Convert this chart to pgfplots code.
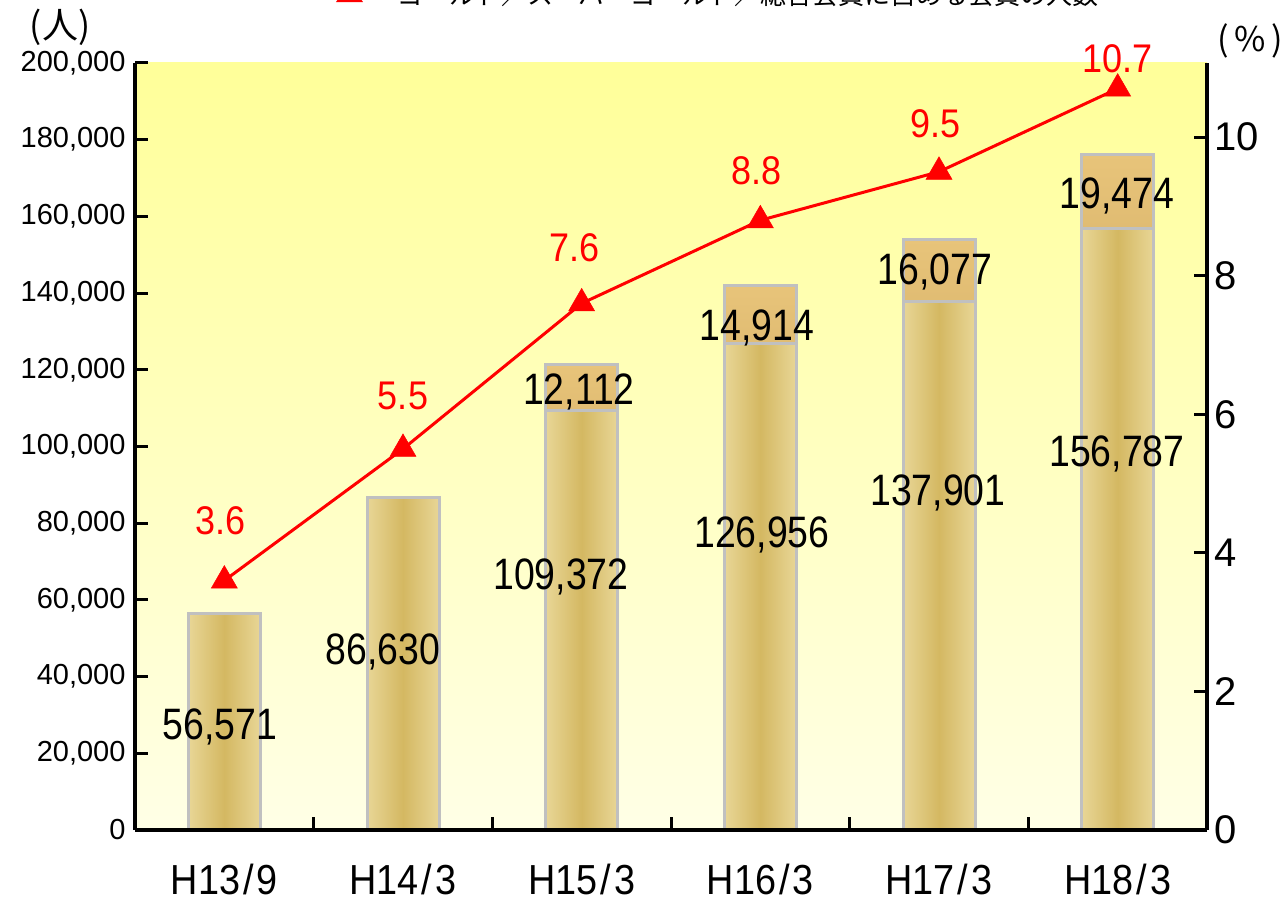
\documentclass[border=0pt]{standalone}
\usepackage{fontspec}
\setmainfont{Liberation Sans}
\newfontfamily\cjk{Noto Sans CJK JP}
\newfontfamily\narrow[FakeStretch=0.85]{Liberation Sans}
\newfontfamily\narrowb[FakeStretch=0.9]{Liberation Sans}
\usepackage{pgfplots}
\pgfplotsset{compat=1.18}
\definecolor{bgtop}{HTML}{FFFF99}
\definecolor{bgbot}{HTML}{FFFFE6}
\definecolor{goldA}{HTML}{E8D696}
\definecolor{goldB}{HTML}{D4B862}
\definecolor{topA}{HTML}{E8C47A}
\definecolor{topB}{HTML}{A07A34}
\definecolor{barline}{HTML}{C0C0C0}
\pgfplotsset{
  lowbar/.style={ybar, bar width=72pt, bar shift=0pt, draw=barline, line width=3pt,
    left color=goldA, right color=goldA, middle color=goldB},
  highbar/.style={ybar, bar width=72pt, bar shift=0pt, draw=barline, line width=3pt,
    top color=topA, bottom color=topB},
}
\begin{document}
\begin{tikzpicture}[x=1pt,y=1pt]
\useasboundingbox (0,0) rectangle (1281,913);
\begin{axis}[
  at={(135pt,83pt)}, anchor=south west,
  scale only axis, width=1072pt, height=767pt,
  xmin=-0.5, xmax=5.5, ymin=0, ymax=200000,
  axis x line*=bottom, axis y line*=left,
  axis line style={line width=3.5pt, black},
  xtick={0.5,1.5,2.5,3.5,4.5}, xticklabels={},
  ytick={0,20000,...,200000},
  scaled y ticks=false,
  /pgf/number format/fixed,
  /pgf/number format/precision=0,
  /pgf/number format/1000 sep={,},
  /pgf/number format/assume math mode=true,
  yticklabel style={font=\fontsize{29}{30}\selectfont, xshift=-6pt},
  tick align=inside,
  major tick length=13pt,
  tick style={line width=3pt, black},
  axis background/.style={top color=bgtop, bottom color=bgbot},
  clip=false,
]
% upper segments: drawn as totals, the lower segment is drawn over them
\addplot[highbar] coordinates {(2,121484)};
\addplot[highbar] coordinates {(3,141870)};
\addplot[highbar] coordinates {(4,153978)};
\addplot[highbar] coordinates {(5,176261)};
% lower segments
\addplot[lowbar] coordinates {(0,56571)};
\addplot[lowbar] coordinates {(1,86630)};
\addplot[lowbar] coordinates {(2,109372)};
\addplot[lowbar] coordinates {(3,126956)};
\addplot[lowbar] coordinates {(4,137901)};
\addplot[lowbar] coordinates {(5,156787)};
\begin{scope}[every node/.style={font=\narrow\fontsize{44}{44}\selectfont, inner sep=0pt}]
\node at (axis cs:-0.024,26860) {56,571};
\node at (axis cs:0.888,46415) {86,630};
\node at (axis cs:1.884,65970) {109,372};
\node at (axis cs:3.009,76920) {126,956};
\node at (axis cs:3.994,87875) {137,901};
\node at (axis cs:4.996,98045) {156,787};
\node at (axis cs:1.985,114210) {12,112};
\node at (axis cs:2.981,130900) {14,914};
\node at (axis cs:3.978,145500) {16,077};
\node at (axis cs:4.996,165300) {19,474};
\end{scope}
\end{axis}
\begin{axis}[
  at={(135pt,83pt)}, anchor=south west,
  scale only axis, width=1072pt, height=767pt,
  xmin=-0.5, xmax=5.5, ymin=0, ymax=11.07,
  axis y line*=right, axis x line*=bottom,
  axis line style={line width=3.5pt, black},
  xtick={0,1,2,3,4,5},
  xticklabels={H13\kern3pt/\kern3pt9, H14\kern3pt/\kern3pt3, H15\kern3pt/\kern3pt3, H16\kern3pt/\kern3pt3, H17\kern3pt/\kern3pt3, H18\kern3pt/\kern3pt3},
  xtick style={draw=none},
  xticklabel style={font=\narrowb\fontsize{42}{42}\selectfont, yshift=-31pt},
  ytick={0,2,4,6,8,10},
  tick align=inside, major tick length=13pt,
  ytick style={line width=3pt, black},
  /pgf/number format/fixed,
  /pgf/number format/assume math mode=true,
  yticklabel style={font=\fontsize{40}{40}\selectfont, xshift=4pt},
  legend style={at={(0.178,1.0915)}, anchor=west, draw=none, fill=none, inner sep=0pt,
    font=\cjk\fontsize{26}{26}\selectfont, nodes={inner sep=0pt}},
  legend cell align=left,
  legend image code/.code={\draw[mark repeat=2, mark phase=2, #1] plot coordinates {(0pt,0pt) (22pt,0pt) (44pt,0pt)};},
  clip=false,
]
\addplot[red, line width=3pt, mark=triangle*, mark size=15pt, mark options={line width=0.5pt, fill=red}]
  coordinates {(0,3.6) (1,5.5) (2,7.6) (3,8.8) (4,9.5) (5,10.7)};
\addlegendentry{\hspace{24pt}ゴールド／スーパーゴールド／総合会員に占める会員の人数}
\begin{scope}[every node/.style={font=\narrowb\fontsize{40}{40}\selectfont, text=red, inner sep=0pt}]
\node at (axis cs:-0.02,4.46) {3.6};
\node at (axis cs:1.0,6.26) {5.5};
\node at (axis cs:1.96,8.40) {7.6};
\node at (axis cs:2.98,9.52) {8.8};
\node at (axis cs:3.98,10.2) {9.5};
\node at (axis cs:5.0,11.13) {10.7};
\end{scope}
\end{axis}
\node[font=\cjk\fontsize{36}{36}\selectfont] at (60,886) {(人)};
\node[font=\cjk\fontsize{34}{34}\selectfont] at (1250,872) {(\,\%\,)};
\end{tikzpicture}
\end{document}
